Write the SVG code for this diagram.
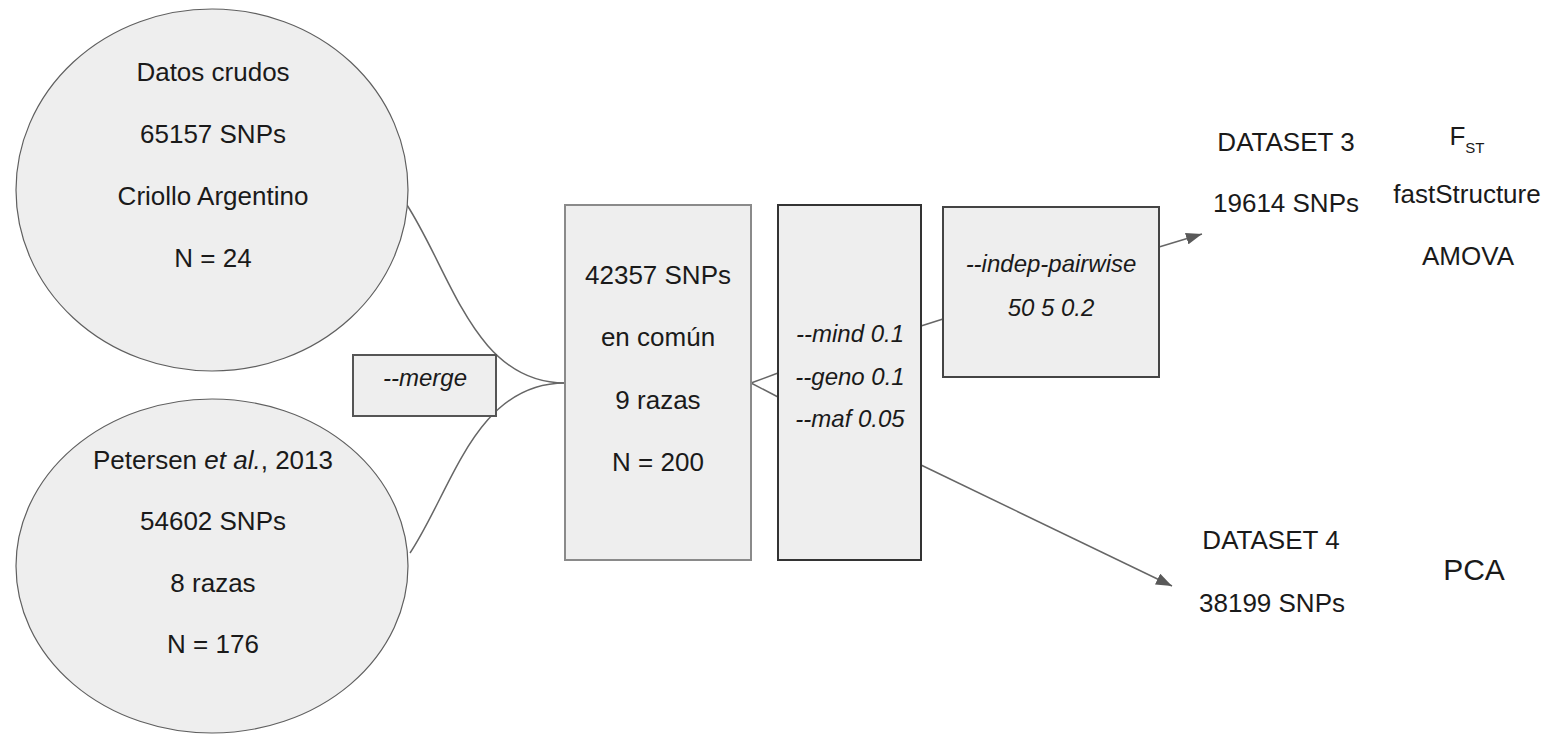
<svg xmlns="http://www.w3.org/2000/svg" width="1548" height="736" viewBox="0 0 1548 736">
  <defs>
    <marker id="arrowhead" viewBox="0 0 16 12" refX="16" refY="6" markerWidth="16" markerHeight="12" markerUnits="userSpaceOnUse" orient="auto">
      <path d="M0,0 L16,6 L0,12 z" fill="#595959"/>
    </marker>
  </defs>
  <style>
    text { font-family: "Liberation Sans", Arial, sans-serif; fill: #1a1a1a; text-anchor: middle; }
    .t { font-size: 26px; }
    .it { font-size: 24px; font-style: italic; }
    .big { font-size: 30px; }
    .sub { font-size: 15px; }
    .shape { fill: #eeeeee; }
    .oval { stroke: #5f5f5f; stroke-width: 1.2; }
    .conn { fill: none; stroke: #666666; stroke-width: 1.5; }
  </style>
  <rect width="1548" height="736" fill="#ffffff"/>

  <!-- connectors -->
  <g id="connectors">
    <path class="conn" d="M407,205 C452,275 475,383 565,383"/>
    <path class="conn" d="M410,553 C452,490 475,383 565,383"/>
    <path class="conn" d="M751,383 L778,373"/>
    <path class="conn" d="M751,383 L778,397"/>
    <path class="conn" d="M921,326 L943,319"/>
    <path class="conn" d="M1159,247 L1202,234" marker-end="url(#arrowhead)"/>
    <path class="conn" d="M921,465 L1172,586" marker-end="url(#arrowhead)"/>
  </g>

  <!-- raw data oval -->
  <g id="raw-data">
    <ellipse class="shape oval" cx="212" cy="190" rx="196" ry="181"/>
    <text class="t" x="213" y="81">Datos crudos</text>
    <text class="t" x="213" y="143">65157 SNPs</text>
    <text class="t" x="213" y="205">Criollo Argentino</text>
    <text class="t" x="213" y="267">N = 24</text>
  </g>

  <!-- Petersen oval -->
  <g id="petersen">
    <ellipse class="shape oval" cx="212" cy="566" rx="196" ry="167"/>
    <text class="t" x="213" y="469">Petersen <tspan font-style="italic">et al.</tspan>, 2013</text>
    <text class="t" x="213" y="530">54602 SNPs</text>
    <text class="t" x="213" y="592">8 razas</text>
    <text class="t" x="213" y="653">N = 176</text>
  </g>

  <!-- merge label -->
  <g id="merge">
    <rect class="shape" x="353" y="355" width="143" height="61" stroke="#555555" stroke-width="2"/>
    <text class="it" x="425" y="386">--merge</text>
  </g>

  <!-- merged set -->
  <g id="merged">
    <rect class="shape" x="565" y="205" width="186" height="355" stroke="#8a8a8a" stroke-width="2"/>
    <text class="t" x="658" y="284">42357 SNPs</text>
    <text class="t" x="658" y="346">en común</text>
    <text class="t" x="658" y="409">9 razas</text>
    <text class="t" x="658" y="471">N = 200</text>
  </g>

  <!-- quality filters -->
  <g id="filters">
    <rect class="shape" x="778" y="205" width="143" height="355" stroke="#333333" stroke-width="2"/>
    <text class="it" x="850" y="342">--mind 0.1</text>
    <text class="it" x="850" y="385">--geno 0.1</text>
    <text class="it" x="850" y="427">--maf 0.05</text>
  </g>

  <!-- LD pruning -->
  <g id="pruning">
    <rect class="shape" x="943" y="207" width="216" height="170" stroke="#444444" stroke-width="2"/>
    <text class="it" x="1051" y="272">--indep-pairwise</text>
    <text class="it" x="1051" y="316">50 5 0.2</text>
  </g>

  <!-- dataset 3 -->
  <g id="dataset3">
    <text class="t" x="1286" y="151">DATASET 3</text>
    <text class="t" x="1286" y="212">19614 SNPs</text>
  </g>

  <!-- analyses on dataset 3 -->
  <g id="analyses3">
    <text x="1467" y="145"><tspan font-size="26">F</tspan><tspan class="sub" dy="8">ST</tspan></text>
    <text class="t" x="1467" y="203">fastStructure</text>
    <text class="t" x="1468" y="265">AMOVA</text>
  </g>

  <!-- dataset 4 -->
  <g id="dataset4">
    <text class="t" x="1271" y="549">DATASET 4</text>
    <text class="t" x="1272" y="612">38199 SNPs</text>
  </g>

  <!-- analysis on dataset 4 -->
  <g id="analyses4">
    <text class="big" x="1474" y="580">PCA</text>
  </g>
</svg>
